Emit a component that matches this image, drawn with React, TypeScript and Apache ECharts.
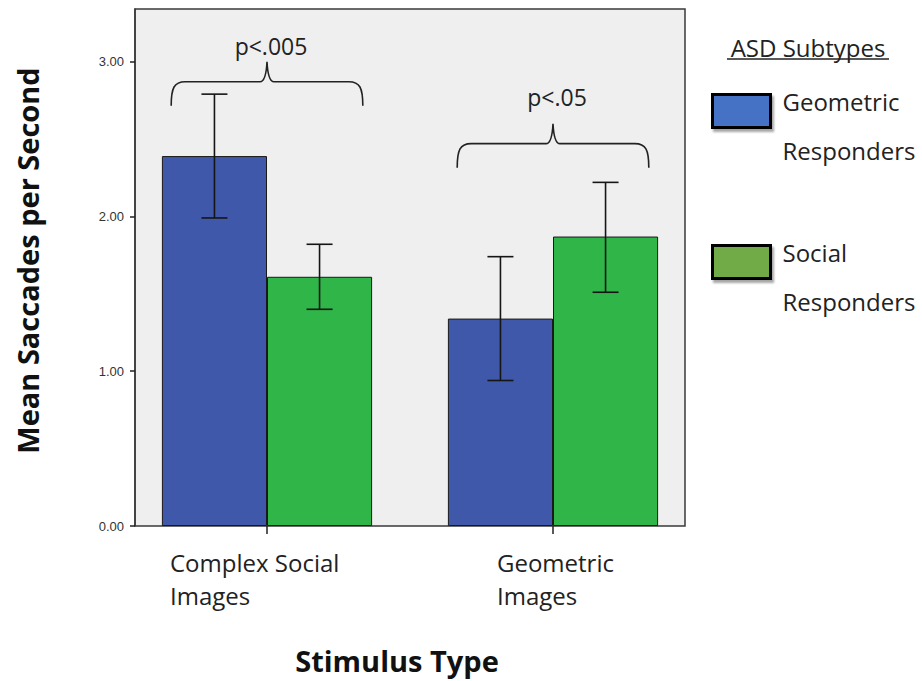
import React, { useEffect, useRef } from 'react';
import * as echarts from 'echarts';

// ---- data ----
const categories = ['Complex Social\nImages', 'Geometric\nImages'];
const seriesNames = ['Geometric Responders', 'Social Responders'];
const geometricMeans = [2.39, 1.34];
const socialMeans = [1.61, 1.87];
const geometricErrLow = [1.99, 0.94];
const geometricErrHigh = [2.79, 1.74];
const socialErrLow = [1.4, 1.51];
const socialErrHigh = [1.82, 2.22];
const yTicks = [0, 1, 2, 3];
const sigCategories = [0, 1];
const sigBraceValues = [2.87, 2.47];
const sigLabelValues = [3.1, 2.77];
const sigLabels = ['p<.005', 'p<.05'];

const FONT = '"Open Sans", "Liberation Sans", sans-serif';
const CAT_GAP = 0.265;

function errorRender(side: number) {
  return (params: any, api: any) => {
    const cat = api.value(0);
    const lo = api.coord([cat, api.value(1)]);
    const hi = api.coord([cat, api.value(2)]);
    const band = api.size([1, 0])[0];
    const barW = (band * (1 - CAT_GAP)) / 2;
    const x = lo[0] + (side * barW) / 2;
    const cap = 13;
    const st = { stroke: '#151515', lineWidth: 1.6 };
    return {
      type: 'group',
      children: [
        { type: 'line', shape: { x1: x, y1: hi[1], x2: x, y2: lo[1] }, style: st },
        { type: 'line', shape: { x1: x - cap, y1: hi[1], x2: x + cap, y2: hi[1] }, style: st },
        { type: 'line', shape: { x1: x - cap, y1: lo[1], x2: x + cap, y2: lo[1] }, style: st },
      ],
    };
  };
}

function braceRender(params: any, api: any) {
  const cat = api.value(0);
  const p = api.coord([cat, api.value(1)]);
  const t = api.coord([cat, api.value(2)]);
  const band = api.size([1, 0])[0];
  const w = band * 0.335;
  const cx = p[0];
  const y = p[1];
  const drop = 24;
  const spike = 20;
  const d =
    `M${cx - w},${y + drop} C${cx - w},${y + 6} ${cx - w + 3},${y} ${cx - w + 14},${y} ` +
    `L${cx - 7},${y} Q${cx - 1},${y} ${cx},${y - spike} Q${cx + 1},${y} ${cx + 7},${y} ` +
    `L${cx + w - 14},${y} C${cx + w - 3},${y} ${cx + w},${y + 6} ${cx + w},${y + drop}`;
  return {
    type: 'group',
    children: [
      { type: 'path', shape: { pathData: d }, style: { fill: 'none', stroke: '#222', lineWidth: 1.6 } },
      {
        type: 'text',
        x: t[0] + 4,
        y: t[1],
        style: {
          text: sigLabels[params.dataIndex],
          fontSize: 23,
          fontFamily: FONT,
          fill: '#222',
          align: 'center',
          verticalAlign: 'middle',
        },
      },
    ],
  };
}

export default function App() {
  const ref = useRef<HTMLDivElement>(null);
  useEffect(() => {
    if (!ref.current) return;
    const chart = echarts.init(ref.current, undefined, { renderer: 'svg' });
    const labelStyle = { fontSize: 24, fontFamily: FONT, color: '#222', lineHeight: 33, align: 'left' };
    const legendLine = { fontSize: 24, fontFamily: FONT, color: '#222', lineHeight: 49 };
    chart.setOption({
      animation: false,
      backgroundColor: '#ffffff',
      textStyle: { fontFamily: FONT },
      grid: { left: 124, right: 226, top: 9, bottom: 155, containLabel: false, outerBoundsMode: 'none' },
      graphic: [
        {
          type: 'rect',
          z: -1,
          shape: { x: 135, y: 9, width: 550, height: 517 },
          style: { fill: '#efefef', stroke: '#3a3a3a', lineWidth: 1.5 },
        },
        {
          type: 'text',
          x: 808,
          y: 47,
          style: {
            text: 'ASD Subtypes',
            fontSize: 24,
            fontFamily: FONT,
            fill: '#222',
            align: 'center',
            verticalAlign: 'middle',
          },
        },
        {
          type: 'line',
          shape: { x1: 727, y1: 59, x2: 889, y2: 59 },
          style: { stroke: '#222', lineWidth: 1.3 },
        },
      ],
      legend: {
        orient: 'vertical',
        left: 711,
        top: 61,
        padding: 0,
        itemWidth: 58,
        itemHeight: 33,
        itemGap: 50,
        icon: 'rect',
        selectedMode: false,
        data: [
          { name: seriesNames[0], itemStyle: { color: '#4472c4' } },
          { name: seriesNames[1], itemStyle: { color: '#6fab46' } },
        ],
        itemStyle: {
          borderColor: '#000',
          borderWidth: 3,
          shadowColor: 'rgba(0,0,0,0.35)',
          shadowBlur: 2,
          shadowOffsetX: 2,
          shadowOffsetY: 3,
        },
        formatter: (name: string) => {
          const parts = name.split(' ');
          return ['{s| }', ...parts.map((p) => `{t|${p}}`)].join('\n');
        },
        textStyle: {
          padding: [0, 0, 0, 7],
          rich: {
            s: { fontSize: 2, lineHeight: 29 },
            t: legendLine,
          },
        },
      },
      xAxis: {
        type: 'category',
        data: categories,
        axisLine: { show: false },
        axisTick: { show: true, alignWithLabel: true, length: 8, lineStyle: { color: '#222', width: 1.5 } },
        axisLabel: {
          interval: 0,
          margin: 20,
          formatter: (v: string, i: number) => {
            const key = i === 0 ? 'a' : 'b';
            return v
              .split('\n')
              .map((s) => `{${key}|${s}}`)
              .join('\n');
          },
          rich: {
            a: { ...labelStyle, width: 194 },
            b: { ...labelStyle, width: 112 },
          },
        },
        name: 'Stimulus Type',
        nameLocation: 'middle',
        nameGap: 120,
        nameTextStyle: { fontSize: 29, fontWeight: 'bold', fontFamily: FONT, color: '#111', padding: [0, 26, 0, 0] },
        splitLine: { show: false },
      },
      yAxis: {
        type: 'value',
        min: 0,
        max: 3.34,
        interval: 1,
        offset: -11,
        axisLine: { show: true, lineStyle: { color: '#3a3a3a', width: 1.5 } },
        axisTick: { show: true, length: 5, customValues: yTicks, lineStyle: { color: '#222', width: 1.5 } },
        axisLabel: {
          customValues: yTicks,
          margin: 11,
          fontSize: 13,
          fontFamily: '"Liberation Sans", Arial, sans-serif',
          color: '#333',
          formatter: (v: number) => (Number.isInteger(v) ? v.toFixed(2) : ''),
        },
        splitLine: { show: false },
        name: 'Mean Saccades per Second',
        nameLocation: 'middle',
        nameGap: 93,
        nameTextStyle: {
          fontSize: 29,
          fontWeight: 'bold',
          fontFamily: FONT,
          color: '#111',
          padding: [0, 0, 0, 14],
        },
      },
      series: [
        {
          name: seriesNames[0],
          type: 'bar',
          data: geometricMeans,
          barGap: '0%',
          barCategoryGap: `${CAT_GAP * 100}%`,
          itemStyle: { color: '#3f58aa', borderColor: '#1a1a1a', borderWidth: 1 },
        },
        {
          name: seriesNames[1],
          type: 'bar',
          data: socialMeans,
          barGap: '0%',
          barCategoryGap: `${CAT_GAP * 100}%`,
          itemStyle: { color: '#2fb548', borderColor: '#1a1a1a', borderWidth: 1 },
        },
        {
          type: 'custom',
          name: 'geoErr',
          renderItem: errorRender(-1),
          data: geometricErrLow.map((lo, i) => [i, lo, geometricErrHigh[i]]),
          encode: { x: 0, y: [1, 2] },
          z: 10,
          silent: true,
        },
        {
          type: 'custom',
          name: 'socErr',
          renderItem: errorRender(1),
          data: socialErrLow.map((lo, i) => [i, lo, socialErrHigh[i]]),
          encode: { x: 0, y: [1, 2] },
          z: 10,
          silent: true,
        },
        {
          type: 'custom',
          name: 'sig',
          renderItem: braceRender,
          data: sigCategories.map((c, i) => [c, sigBraceValues[i], sigLabelValues[i]]),
          encode: { x: 0, y: [1, 2] },
          clip: false,
          z: 10,
          silent: true,
        },
      ],
    });
    return () => chart.dispose();
  }, []);
  return (
    <div
      ref={ref}
      style={{ position: 'absolute', left: 0, top: 0, width: 922, height: 681, background: '#fff' }}
    />
  );
}
